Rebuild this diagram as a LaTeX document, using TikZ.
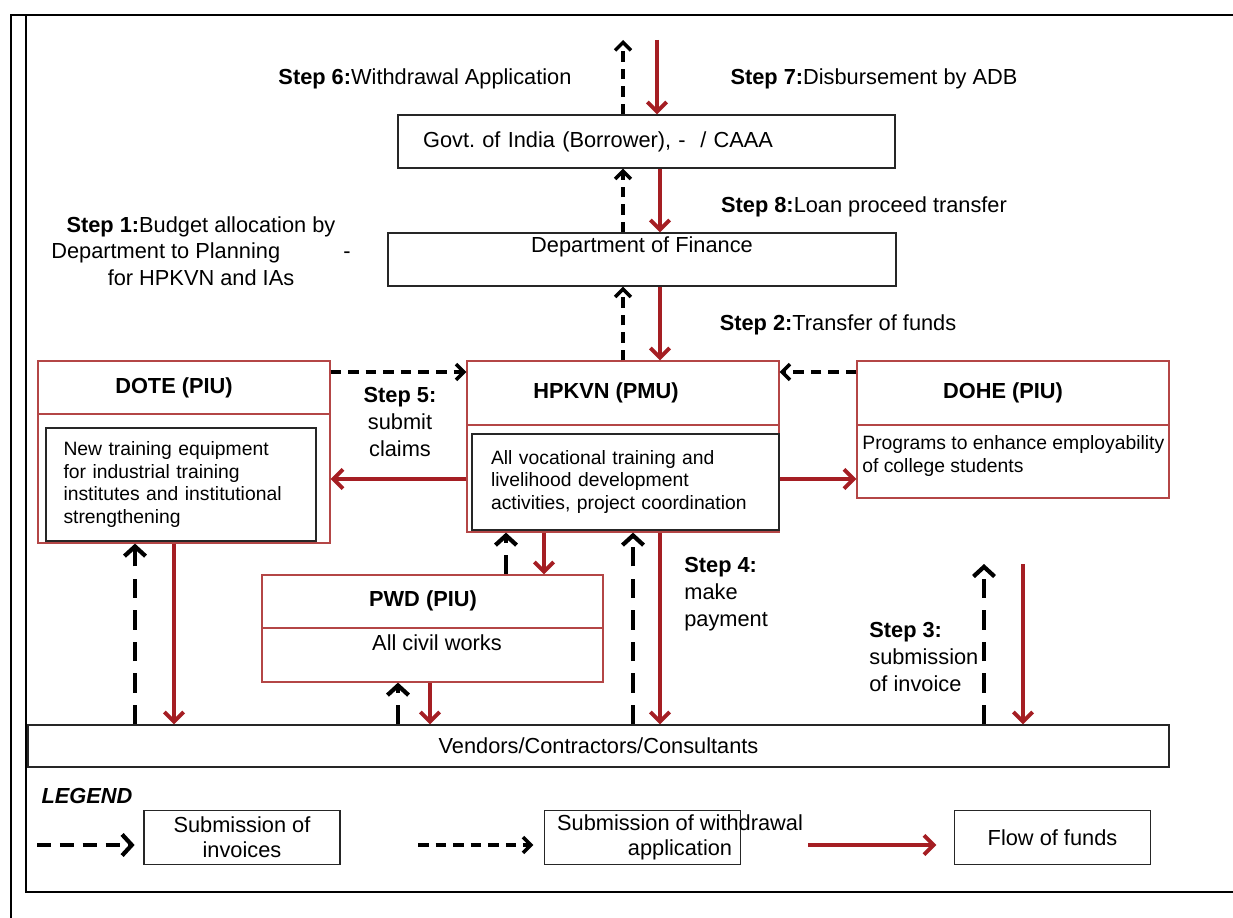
\documentclass[tikz,border=0pt]{standalone}
\usepackage{fontspec}
\setmainfont{Liberation Sans}
\usetikzlibrary{arrows.meta,positioning}
\definecolor{fundred}{RGB}{165,30,35}
\definecolor{boxred}{RGB}{180,70,70}
\frenchspacing

\begin{document}
\begin{tikzpicture}[x=0.02cm,y=-0.02cm,
  txt/.style={font=\fontsize{12.4}{15.2}\selectfont, inner sep=0pt},
  small/.style={font=\fontsize{11}{12.9}\selectfont, inner sep=0pt},
  redbox/.style={draw=boxred, line width=0.7pt, inner sep=0pt},
  blackbox/.style={draw=black!85, line width=0.7pt, inner sep=0pt},
  funds/.style={draw=fundred, line width=2.2pt, -{Straight Barb[length=5.5pt,width=11pt]}},
  invoice/.style={draw=black, line width=2.4pt, dash pattern=on 11pt off 7pt, -{Straight Barb[length=5.5pt,width=12pt]}},
  withdraw/.style={draw=black, line width=2pt, dash pattern=on 6pt off 4pt, -{Straight Barb[length=4.5pt,width=9pt]}}]
\useasboundingbox (0,0) rectangle (1233,918);
% frame
\draw[line width=1.3pt] (11,918) -- (11,15) -- (1233,15);
\draw[line width=0.7pt] (26,15) -- (26,168);
\draw[line width=1.6pt] (26,168) -- (26,892) -- (1233,892);
% boxes
\node (govt) at (646.5,141.5) [blackbox, txt, minimum width=9.94cm, minimum height=1.06cm, text width=8.94cm, inner xsep=0.5cm, align=left] {Govt. of India (Borrower), -\ \ / CAAA};
\node (finance) at (642,259.5) [blackbox, minimum width=10.16cm, minimum height=1.06cm] {};
\node (financetxt) [txt, below=2.5pt of finance.north] {Department of Finance};
\node (dote) at (184,452) [redbox, minimum width=5.84cm, minimum height=3.64cm] {};
\node (dotetitle) at (174,388) [txt] {\textbf{DOTE (PIU)}};
\draw[boxred, line width=0.7pt] (dote.west |- 0,414) -- (dote.east |- 0,414);
\node (doteinner) at (181,484.5) [blackbox, small, minimum width=5.4cm, minimum height=2.26cm, text width=4.7cm, align=left] {New training equipment\\for industrial training\\institutes and institutional\\strengthening};
\node (hpkvn) at (623,446.5) [redbox, minimum width=6.24cm, minimum height=3.42cm] {};
\node (hpkvntitle) at (606,393) [txt] {\textbf{HPKVN (PMU)}};
\draw[boxred, line width=0.7pt] (hpkvn.west |- 0,425) -- (hpkvn.east |- 0,425);
\node (hpkvninner) at (625.5,482) [blackbox, small, minimum width=6.14cm, minimum height=1.92cm, text width=5.38cm, align=left] {All vocational training and\\livelihood development\\activities, project coordination};
\node (dohe) at (1013,429.5) [redbox, minimum width=6.24cm, minimum height=2.74cm] {};
\node (dohetitle) at (1003,393) [txt] {\textbf{DOHE (PIU)}};
\draw[boxred, line width=0.7pt] (dohe.west |- 0,425) -- (dohe.east |- 0,425);
\node (dohetxt) at (862,456) [small, anchor=west, align=left] {Programs to enhance employability\\of college students};
\node (pwd) at (432.5,628.5) [redbox, minimum width=6.82cm, minimum height=2.14cm] {};
\node (pwdtitle) at (423,601) [txt] {\textbf{PWD (PIU)}};
\draw[boxred, line width=0.7pt] (pwd.west |- 0,628) -- (pwd.east |- 0,628);
\node (pwdtxt) at (437,643) [txt] {All civil works};
\node (vendors) at (598.5,746) [blackbox, txt, minimum width=22.82cm, minimum height=0.84cm] {Vendors/Contractors/Consultants};
% step labels
\node (step6) at (425,79) [txt] {\textbf{Step 6:}Withdrawal Application};
\node (step7) at (874,79) [txt] {\textbf{Step 7:}Disbursement by ADB};
\node (step8) at (864,207) [txt] {\textbf{Step 8:}Loan proceed transfer};
\node (step1) at (201,251) [txt, align=center] {\textbf{Step 1:}Budget allocation by\\Department to Planning\hspace{36pt}-\\for HPKVN and IAs};
\node (step2) at (838,325) [txt] {\textbf{Step 2:}Transfer of funds};
\node (step5) at (400,422) [txt, align=center] {\textbf{Step 5:}\\submit\\claims};
\node (step4) at (684,594) [txt, anchor=west, align=left] {\textbf{Step 4:}\\make\\payment};
\node (step3) at (869,657) [txt, anchor=west, align=left] {\textbf{Step 3:}\\submission\\of invoice};
% columns and rows
\coordinate (cA) at (623,0);
\coordinate (cB) at (660,0);
\coordinate (rowA) at (0,372);
\coordinate (rowB) at (0,479);
\coordinate (c1) at (135,0);
\coordinate (c2) at (174,0);
\coordinate (c3) at (506,0);
\coordinate (c4) at (544,0);
\coordinate (c5) at (398,0);
\coordinate (c6) at (430,0);
\coordinate (c7) at (633,0);
\coordinate (adbout) at (623,40);
\coordinate (adbin) at (657,40);
\coordinate (inv3) at (984,564);
\coordinate (pay3) at (1023,564);
% withdrawal and funds, centre column
\draw[withdraw] (govt.north -| cA) -- (adbout);
\draw[funds] (adbin) -- (govt.north -| adbin);
\draw[withdraw] (finance.north -| cA) -- (govt.south -| cA);
\draw[funds] (govt.south -| cB) -- (finance.north -| cB);
\draw[withdraw] (hpkvn.north -| cA) -- (finance.south -| cA);
\draw[funds] (finance.south -| cB) -- (hpkvn.north -| cB);
% claims and transfers between PIUs and PMU
\draw[withdraw] (dote.east |- rowA) -- (hpkvn.west |- rowA);
\draw[withdraw] (dohe.west |- rowA) -- (hpkvn.east |- rowA);
\draw[funds] (hpkvn.west |- rowB) -- (dote.east |- rowB);
\draw[funds] (hpkvn.east |- rowB) -- (dohe.west |- rowB);
% invoices and payments
\draw[invoice] (vendors.north -| c1) -- (dote.south -| c1);
\draw[funds] (dote.south -| c2) -- (vendors.north -| c2);
\draw[invoice] (pwd.north -| c3) -- (hpkvn.south -| c3);
\draw[funds] (hpkvn.south -| c4) -- (pwd.north -| c4);
\draw[invoice] (vendors.north -| c5) -- (pwd.south -| c5);
\draw[funds] (pwd.south -| c6) -- (vendors.north -| c6);
\draw[invoice] (vendors.north -| c7) -- (hpkvn.south -| c7);
\draw[funds] (hpkvn.south -| cB) -- (vendors.north -| cB);
\draw[invoice] (vendors.north -| inv3) -- (inv3);
\draw[funds] (pay3) -- (vendors.north -| pay3);
% legend
\node (legend) at (87,796) [txt] {\textbf{\textit{LEGEND}}};
\node (leg1) at (242,837.5) [blackbox, txt, minimum width=3.92cm, minimum height=1.08cm, align=center] {Submission of\\[-1pt]invoices};
\node (leg2) at (642.5,837.5) [blackbox, minimum width=3.92cm, minimum height=1.08cm] {};
\node (leg2txt) at (680,837.5) [txt, align=center] {Submission of withdrawal\\[-1pt]application};
\node (leg3) at (1052.5,837.5) [blackbox, txt, minimum width=3.92cm, minimum height=1.08cm] {Flow of funds};
\coordinate (legA) at (37,845);
\coordinate (legB) at (418,845);
\coordinate (legC) at (808,845);
\draw[invoice, dash pattern=on 8pt off 5pt, shorten >=5pt] (legA) -- (leg1.west |- legA);
\draw[withdraw, shorten >=6pt] (legB) -- (leg2.west |- legB);
\draw[funds, shorten >=10pt] (legC) -- (leg3.west |- legC);
\end{tikzpicture}
\end{document}
